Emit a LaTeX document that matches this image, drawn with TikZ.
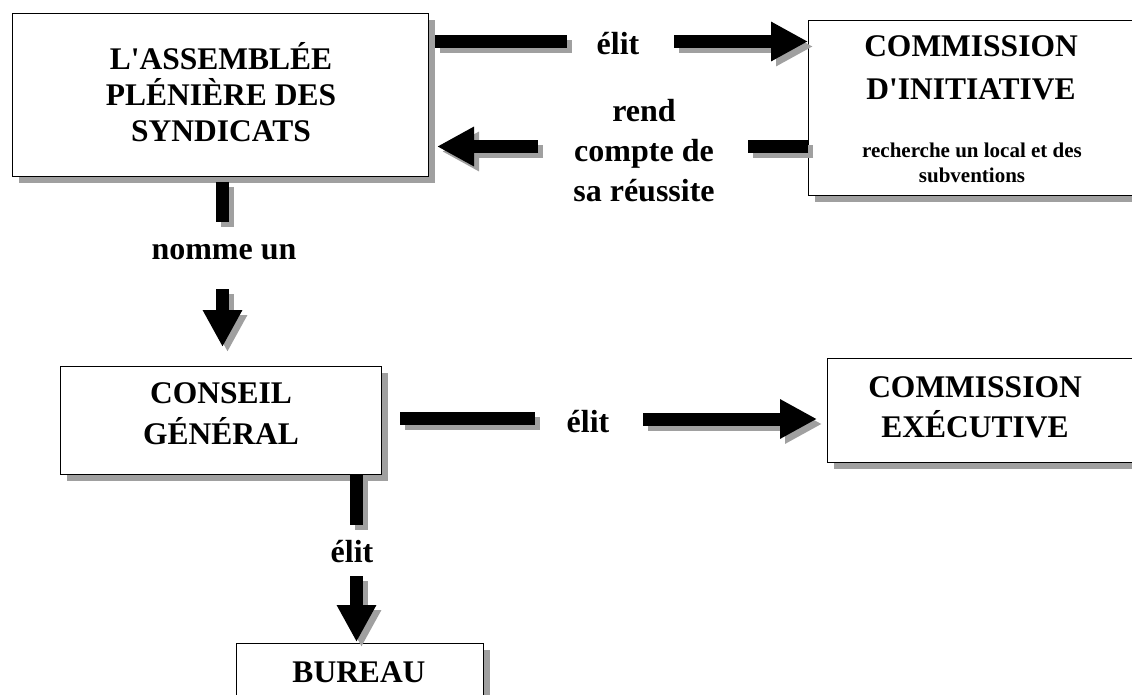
\documentclass[tikz,border=0pt]{standalone}
\usepackage{fontspec}
\setmainfont{Liberation Serif}
\newfontfamily\plainserif{Liberation Serif}[Ligatures=TeXOff]
\usetikzlibrary{arrows.meta,shadows}
\definecolor{shadowgray}{RGB}{160,160,160}
\newcommand{\apos}{{\plainserif\bfseries '}}
\tikzset{
  boxshape/.style={draw=black, line width=1.2pt, fill=white, rectangle, inner sep=0pt,
    general shadow={fill=shadowgray, shadow xshift=6pt, shadow yshift=-6pt}},
  ttl/.style={font=\fontsize{31.5}{38}\selectfont\bfseries, inner sep=0pt, anchor=base},
  smalltxt/.style={font=\fontsize{21}{25}\selectfont\bfseries, inner sep=0pt, anchor=base},
  lbl/.style={font=\fontsize{32}{40}\selectfont\bfseries, inner sep=0pt, anchor=base},
  bar/.style={line width=13pt, black},
  barsh/.style={line width=13pt, shadowgray, transform canvas={xshift=5pt,yshift=-5pt}},
  tiphead/.style={-{Triangle[length=37pt,width=37pt]}}
}
\begin{document}
\begin{tikzpicture}[x=1pt,y=-1pt]
\clip (0,0) rectangle (1132,695);
\useasboundingbox (0,0) rectangle (1132,695);

% boxes
\node[boxshape, minimum width=416pt, minimum height=163pt, anchor=north west] (asm) at (12,13) {};
\node[boxshape, minimum width=340pt, minimum height=175pt, anchor=north west] (ci) at (808,20) {};
\node[boxshape, minimum width=321pt, minimum height=108pt, anchor=north west] (cg) at (60,366) {};
\node[boxshape, minimum width=320pt, minimum height=104pt, anchor=north west] (ce) at (827,358) {};
\node[boxshape, minimum width=247pt, minimum height=80pt, anchor=north west] (bu) at (236,643) {};

% box texts
\node[ttl] (asmT) at (221,70) {L\apos ASSEMBLÉE};
\node[ttl] (asmT2) at (221,106) {PLÉNIÈRE DES};
\node[ttl] (asmT3) at (221,142) {SYNDICATS};
\node[ttl] (ciT) at (971,57) {COMMISSION};
\node[ttl] (ciT2) at (971,100) {D\apos INITIATIVE};
\node[smalltxt] (ciS) at (972,158) {recherche un local et des};
\node[smalltxt] (ciS2) at (972,183) {subventions};
\node[ttl] (cgT) at (221,403) {CONSEIL};
\node[ttl] (cgT2) at (221,444) {GÉNÉRAL};
\node[ttl] (ceT) at (975,397) {COMMISSION};
\node[ttl] (ceT2) at (975,437) {EXÉCUTIVE};
\node[ttl] (buT) at (359,682) {BUREAU};

% labels
\node[lbl] (l1) at (618,55) {élit};
\node[lbl] (l2) at (644,122) {rend};
\node[lbl] (l2b) at (644,162) {compte de};
\node[lbl] (l2c) at (644,202) {sa réussite};
\node[lbl] (l3) at (224,259) {nomme un};
\node[lbl] (l4) at (588,432) {élit};
\node[lbl] (l5) at (352,562) {élit};

% coordinates for bar ends
\coordinate (a1) at (435,41.5);
\coordinate (a2) at (567,41.5);
\coordinate (a3) at (674,41.5);
\coordinate (a4) at (ci.west |- a3);
\coordinate (b0) at (0,146.5);
\coordinate (b1) at (ci.west |- b0);
\coordinate (b2) at (748,146.5);
\coordinate (b3) at (538,146.5);
\coordinate (b4) at (437,146.5);
\coordinate (c1) at (222.5,182);
\coordinate (c2) at (222.5,222);
\coordinate (c3) at (222.5,289);
\coordinate (c4) at (222.5,347);
\coordinate (d1) at (400,418.5);
\coordinate (d2) at (535,418.5);
\coordinate (d3) at (643,419);
\coordinate (d4) at (817,419);
\coordinate (e0) at (356.5,0);
\coordinate (e1) at (e0 |- cg.south);
\coordinate (e2) at (356.5,525);
\coordinate (e3) at (356.5,576);
\coordinate (e4) at (356.5,642);

% shadows
\draw[barsh] (a1) -- (a2);
\draw[barsh, tiphead] (a3) -- (a4);
\draw[barsh] (b1) -- (b2);
\draw[barsh, tiphead] (b3) -- (b4);
\draw[barsh] (c1) -- (c2);
\draw[barsh, tiphead] (c3) -- (c4);
\draw[barsh] (d1) -- (d2);
\draw[barsh, tiphead] (d3) -- (d4);
\draw[barsh] (e1) -- (e2);
\draw[barsh, tiphead] (e3) -- (e4);

% bars
\draw[bar] (a1) -- (a2);
\draw[bar, tiphead] (a3) -- (a4);
\draw[bar] (b1) -- (b2);
\draw[bar, tiphead] (b3) -- (b4);
\draw[bar] (c1) -- (c2);
\draw[bar, tiphead] (c3) -- (c4);
\draw[bar] (d1) -- (d2);
\draw[bar, tiphead] (d3) -- (d4);
\draw[bar] (e1) -- (e2);
\draw[bar, tiphead] (e3) -- (e4);
\end{tikzpicture}
\end{document}
